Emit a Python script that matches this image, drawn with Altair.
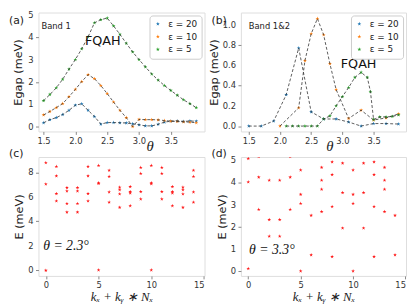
import altair as alt
import pandas as pd

STAR = ("M0,-1L0.225,-0.309L0.951,-0.309L0.363,0.118L0.588,0.809L0,0.382"
        "L-0.588,0.809L-0.363,0.118L-0.951,-0.309L-0.225,-0.309Z")

series_labels = ["ε = 20", "ε = 10", "ε = 5"]
series_colors = ["#1f77b4", "#ff7f0e", "#2ca02c"]

# ---------- panel (a): Band 1 ----------
theta_a = [1.5, 1.6, 1.7, 1.8, 1.9, 2.0, 2.1, 2.2, 2.3, 2.4, 2.5, 2.6, 2.7,
           2.8, 2.9, 3.0, 3.1, 3.2, 3.3, 3.4, 3.5, 3.6, 3.7, 3.8, 3.9]
gap_a_20 = [0.17, 0.31, 0.40, 0.54, 0.73, 0.96, 1.02, 0.73, 0.45, 0.11, 0.18, 0.18, 0.17,
            0.16, 0.12, 0.08, 0.03, 0.03, 0.10, 0.20, 0.24, 0.25, 0.23, 0.25, 0.24]
gap_a_10 = [0.52, 0.68, 0.85, 1.03, 1.34, 1.67, 2.02, 2.33, 2.15, 1.84, 1.48, 1.10, 0.73,
            0.40, 0.00, 0.32, 0.31, 0.31, 0.30, 0.27, 0.24, 0.23, 0.21, 0.20, 0.17]
gap_a_5 = [1.16, 1.44, 1.74, 2.12, 2.58, 3.01, 3.49, 4.03, 4.66, 4.80, 4.87, 4.52, 4.14,
           3.74, 3.35, 3.01, 2.68, 2.36, 2.09, 1.84, 1.62, 1.41, 1.20, 1.03, 0.85]
yticks_a = [0, 1, 2, 3, 4, 5]
ylabels_a = ["0", "1", "2", "3", "4", "5"]

# ---------- panel (b): Band 1&2 ----------
theta_b_20 = [1.5, 1.7, 1.9, 2.1, 2.3, 2.5, 2.7, 2.9, 3.1, 3.3, 3.5, 3.7, 3.9]
gap_b_20 = [0.0, 0.0, 0.05, 0.31, 0.77, 0.14, 0.07, 0.07, 0.04, 0.0, 0.025, 0.025, 0.02]
theta_b_10 = [2.0, 2.3, 2.4, 2.5, 2.6, 2.7, 2.8, 2.9, 3.1, 3.3, 3.5, 3.7, 3.9]
gap_b_10 = [0.0, 0.18, 0.645, 0.91, 1.06, 0.90, 0.615, 0.36, 0.075, 0.157, 0.06, 0.08, 0.12]
theta_b_5 = [2.1, 2.2, 2.3, 2.4, 2.5, 2.6, 2.7, 2.8, 2.9, 3.0, 3.1, 3.2, 3.3, 3.4,
             3.45, 3.5, 3.6, 3.7, 3.8, 3.9]
gap_b_5 = [0.0, 0.0, 0.0, 0.0, 0.0, 0.0, 0.07, 0.10, 0.20, 0.29, 0.38, 0.48, 0.53, 0.48,
           0.34, 0.065, 0.09, 0.09, 0.095, 0.11]
yticks_b = [0.0, 0.2, 0.4, 0.6, 0.8, 1.0]
ylabels_b = ["0.0", "0.2", "0.4", "0.6", "0.8", "1.0"]

# ---------- panel (c): spectrum at theta = 2.3 ----------
k_c = [0, 0, 0, 1, 1, 1, 1, 2, 2, 2, 2, 3, 3, 3, 3, 4, 4, 4, 4, 5, 5, 5, 5,
       6, 6, 6, 6, 7, 7, 7, 7, 8, 8, 8, 8, 9, 9, 9, 9, 10, 10, 10, 10,
       11, 11, 11, 11, 12, 12, 12, 12, 13, 13, 13, 13, 14, 14, 14, 14]
E_c = [8.78, 7.04, 0.0, 8.47, 7.71, 6.26, 5.66, 6.75, 6.47, 5.45, 4.75,
       6.75, 6.47, 5.45, 4.75, 8.47, 7.71, 6.26, 5.66, 8.55, 7.14, 7.09, 0.03,
       8.16, 7.66, 6.39, 5.56, 6.78, 6.57, 6.23, 5.14, 6.83, 6.42, 6.31, 5.27,
       8.39, 7.90, 6.42, 5.82, 8.55, 7.14, 7.06, 0.03, 8.39, 7.90, 6.42, 5.82,
       6.83, 6.42, 6.31, 5.27, 6.78, 6.57, 6.23, 5.14, 8.16, 7.66, 6.39, 5.56]
yticks_c = [0, 2, 4, 6, 8]
ylabels_c = ["0", "2", "4", "6", "8"]

# ---------- panel (d): spectrum at theta = 3.3 ----------
k_d = [0, 0, 0, 1, 1, 1, 2, 2, 2, 3, 3, 3, 4, 4, 4, 5, 5, 5, 5, 6, 6,
       7, 7, 7, 7, 8, 8, 8, 8, 9, 9, 9, 10, 10, 10, 10, 11, 11, 11,
       12, 12, 12, 12, 13, 13, 13, 13, 14, 14]
E_d = [5.08, 4.02, 0.11, 5.17, 4.24, 2.78, 4.10, 2.32, 1.57, 4.10, 2.32, 1.57,
       5.17, 4.24, 2.78, 4.56, 3.46, 3.05, 0.0, 2.51, 0.73,
       4.68, 4.10, 3.69, 2.68, 4.93, 4.35, 2.91, 0.65, 4.87, 3.54, 1.94,
       4.56, 3.46, 3.05, 0.0, 4.87, 3.54, 1.94, 4.93, 4.35, 2.91, 0.65,
       4.68, 4.10, 3.69, 2.68, 2.51, 0.73]
yticks_d = [0, 1, 2, 3, 4, 5]
ylabels_d = ["0", "1", "2", "3", "4", "5"]


def long_df(pairs):
    rows = []
    for lab, xs, ys in pairs:
        for x, y in zip(xs, ys):
            rows.append({"theta": x, "gap": y, "series": lab})
    return pd.DataFrame(rows)


df_a = long_df([(series_labels[0], theta_a, gap_a_20),
                (series_labels[1], theta_a, gap_a_10),
                (series_labels[2], theta_a, gap_a_5)])
df_b = long_df([(series_labels[0], theta_b_20, gap_b_20),
                (series_labels[1], theta_b_10, gap_b_10),
                (series_labels[2], theta_b_5, gap_b_5)])
df_c = pd.DataFrame({"k": k_c, "E": E_c})
df_d = pd.DataFrame({"k": k_d, "E": E_d})

SANS = "DejaVu Sans"
SERIF = "Liberation Serif"
LBL = dict(labelFont=SANS, labelFontSize=8.5, labelColor="#333333",
           tickColor="#888888", tickSize=3, domain=False, grid=False,
           labelPadding=2, labelOverlap=False)


def tag(text, dx, dy):
    return alt.Chart(pd.DataFrame({"t": [text]})).mark_text(
        align="left", baseline="middle", font=SANS, fontSize=11, color="#222222"
    ).encode(text="t:N", x=alt.value(dx), y=alt.value(dy))


def ytick_labels(field, vals, labs):
    return alt.Chart(pd.DataFrame({field: vals, "lab": labs})).mark_text(
        align="right", baseline="middle", font=SANS, fontSize=8.5, color="#333333"
    ).encode(y=f"{field}:Q", x=alt.value(-5), text="lab:N")


def gap_panel(df, xdom, ydom, yvals, ylabs, ypad, band, band_dx, fq_pos, letter, title_x, w, h):
    xs = alt.Scale(domain=xdom, nice=False, zero=False)
    ys = alt.Scale(domain=ydom, nice=False, zero=False)
    xax = alt.Axis(values=[1.5, 2.0, 2.5, 3.0, 3.5], format=".1f", title="θ",
                   titleFont=SERIF, titleFontStyle="italic", titleFontSize=15,
                   titleFontWeight="normal", titleColor="#222222",
                   titleX=title_x, titleY=14, titleBaseline="middle", **LBL)
    yax = alt.Axis(values=yvals, labels=False, title="Egap (meV)", titleFont=SANS,
                   titleFontSize=11.5, titleFontWeight="normal", titleColor="#222222",
                   titlePadding=ypad, tickColor="#888888", tickSize=3, domain=False, grid=False)
    base = alt.Chart(df)
    pts = base.mark_point(shape=STAR, filled=True, size=17, opacity=1).encode(
        x=alt.X("theta:Q", scale=xs, axis=xax),
        y=alt.Y("gap:Q", scale=ys, axis=yax),
        color=alt.Color("series:N", sort=series_labels,
                        scale=alt.Scale(domain=series_labels, range=series_colors),
                        legend=alt.Legend(title=None, orient="top-right", offset=3,
                                          padding=4, rowPadding=3, strokeColor="#cccccc",
                                          fillColor="white", cornerRadius=3,
                                          labelFont=SANS, labelFontSize=9,
                                          labelColor="#222222", symbolType=STAR,
                                          symbolSize=18, labelOffset=6)),
    )
    lines = base.mark_line(color="#333333", strokeDash=[3, 2], strokeWidth=0.8).encode(
        x="theta:Q", y="gap:Q", detail="series:N")
    fq = alt.Chart(pd.DataFrame({"theta": [fq_pos[0]], "gap": [fq_pos[1]], "t": ["FQAH"]})).mark_text(
        font=SANS, fontSize=13, baseline="alphabetic", align="center", color="#111111"
    ).encode(x="theta:Q", y="gap:Q", text="t:N")
    bt = alt.Chart(pd.DataFrame({"t": [band]})).mark_text(
        align="left", baseline="alphabetic", font=SANS, fontSize=8.5, color="#222222"
    ).encode(text="t:N", x=alt.value(band_dx), y=alt.value(17))
    return alt.layer(pts, lines, ytick_labels("gap", yvals, ylabs), fq, bt,
                     tag(letter, -30, 9)).properties(width=w, height=h)


def spec_panel(df, ydom, yvals, ylabs, ypad, label, lab_pos, letter, w, h):
    xs = alt.Scale(domain=[-0.7, 15.05], nice=False, zero=False)
    ys = alt.Scale(domain=ydom, nice=False, zero=False)
    xax = alt.Axis(values=[0, 5, 10, 15], format="d", title="kₓ + kᵧ ∗ Nₓ",
                   titleFont=SERIF, titleFontStyle="italic", titleFontSize=13,
                   titleFontWeight="normal", titleColor="#222222",
                   titleY=21, titleBaseline="middle", **LBL)
    yax = alt.Axis(values=yvals, labels=False, title="E (meV)", titleFont=SANS,
                   titleFontSize=11.5, titleFontWeight="normal", titleColor="#222222",
                   titlePadding=ypad, tickColor="#888888", tickSize=3, domain=False, grid=False)
    pts = alt.Chart(df).mark_point(shape=STAR, filled=True, size=16, opacity=1,
                                   color="#ff1a1a", clip=True).encode(
        x=alt.X("k:Q", scale=xs, axis=xax),
        y=alt.Y("E:Q", scale=ys, axis=yax))
    ann = alt.Chart(pd.DataFrame({"k": [lab_pos[0]], "E": [lab_pos[1]], "t": [label]})).mark_text(
        font=SERIF, fontStyle="italic", fontSize=14, align="left", baseline="middle",
        color="#111111").encode(x="k:Q", y="E:Q", text="t:N")
    return alt.layer(pts, ytick_labels("E", yvals, ylabs), ann,
                     tag(letter, -30, -3)).properties(width=w, height=h)


pa = gap_panel(df_a, [1.42, 4.03], [-0.22, 5.12], yticks_a, ylabels_a, 12,
               "Band 1", 3, (2.43, 3.65), "(a)", 113, 169, 121)
pb = gap_panel(df_b, [1.374, 4.02], [-0.053, 1.12], yticks_b, ylabels_b, 18,
               "Band 1&2", 8, (3.26, 0.57), "(b)", 90, 168, 121)
pc = spec_panel(df_c, [-0.45, 9.25], yticks_c, ylabels_c, 11, "θ = 2.3°", (-0.25, 2.0), "(c)", 169, 121)
pd_ = spec_panel(df_d, [-0.22, 5.15], yticks_d, ylabels_d, 10, "θ = 3.3°", (0.08, 0.94), "(d)", 168, 121)

chart = alt.concat(pa, pb, pc, pd_, columns=2, spacing={"row": 26, "column": 37},
                   bounds="flush").resolve_scale(
    color="independent").resolve_legend(color="independent").properties(
    padding=0).configure_view(
    stroke="#b0b0b0", strokeWidth=1).configure(background="white")

chart.save("out.html", embed_options={"renderer": "svg", "actions": False})
